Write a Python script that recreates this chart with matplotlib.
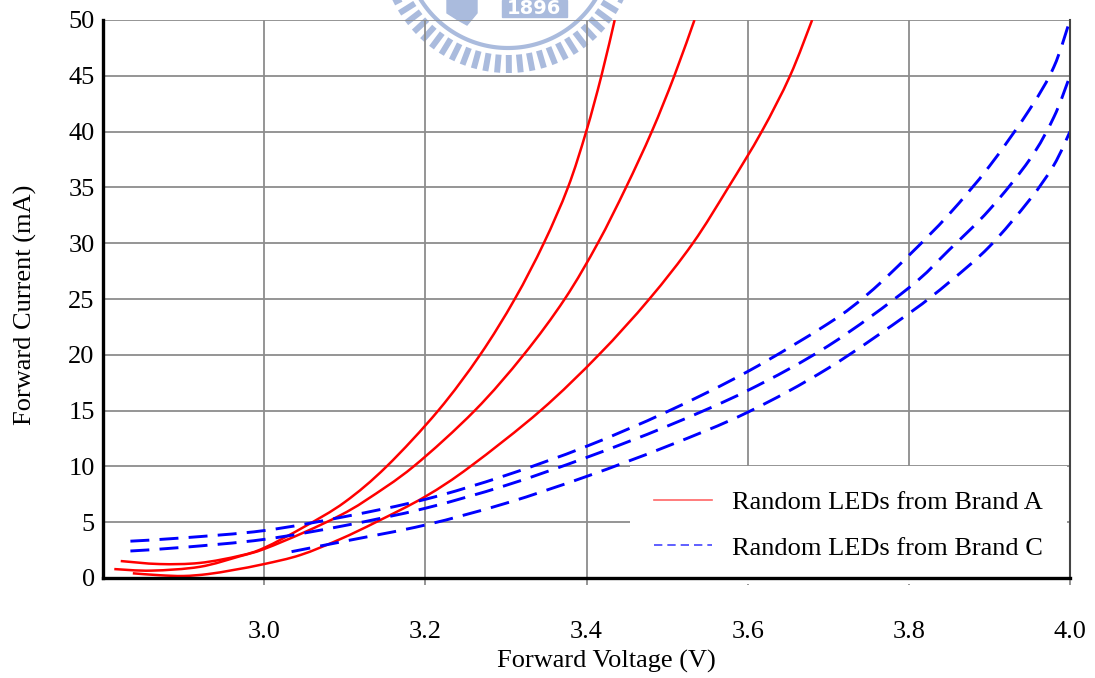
import matplotlib
matplotlib.use('Agg')
import matplotlib.pyplot as plt
from matplotlib.lines import Line2D
from matplotlib.patches import Rectangle, Polygon, PathPatch
from matplotlib.path import Path
import numpy as np

plt.rcParams['font.family'] = ['Liberation Serif', 'DejaVu Serif']

# den LED hang A (duong do, net lien)
a1_v = [2.822, 2.87, 2.92, 2.97, 3.0, 3.05, 3.1, 3.152, 3.216, 3.268, 3.311, 3.347, 3.377, 3.3996, 3.4185, 3.435]
a1_i = [1.52, 1.25, 1.35, 2.0, 2.7, 4.6, 6.8, 10.0, 15.0, 20.0, 25.0, 30.0, 35.0, 40.0, 45.0, 50.0]
a2_v = [2.814, 2.86, 2.92, 2.97, 3.0, 3.05, 3.094, 3.1267, 3.1855, 3.2613, 3.322, 3.373, 3.414, 3.449, 3.481, 3.509, 3.534]
a2_i = [0.8, 0.66, 1.0, 1.95, 2.6, 4.1, 5.6, 6.99, 10.0, 15.0, 20.0, 25.0, 30.0, 35.0, 40.0, 45.0, 50.0]
a3_v = [2.837, 2.87, 2.9, 2.93, 2.962, 3.0, 3.045, 3.094, 3.14, 3.2, 3.256, 3.343, 3.4153, 3.478, 3.532, 3.576, 3.6174, 3.6526, 3.68]
a3_i = [0.42, 0.25, 0.18, 0.35, 0.72, 1.25, 2.06, 3.47, 5.05, 7.3, 10.0, 15.0, 20.0, 25.0, 30.0, 35.0, 40.0, 45.0, 50.0]

# den LED hang C (duong xanh, net dut)
c1_v = [2.834, 2.9, 3.0, 3.1, 3.2, 3.3, 3.4, 3.5, 3.6, 3.7, 3.75, 3.8, 3.85, 3.9, 3.95, 3.98, 4.0]
c1_i = [3.3, 3.6, 4.25, 5.5, 7.05, 9.2, 11.8, 14.9, 18.5, 22.8, 25.5, 28.9, 32.6, 36.9, 42.0, 45.8, 50.0]
c2_v = [2.834, 2.9, 3.0, 3.1, 3.2, 3.3, 3.4, 3.5, 3.6, 3.7, 3.8, 3.85, 3.9, 3.95, 3.98, 4.0]
c2_i = [2.42, 2.75, 3.46, 4.7, 6.25, 8.3, 10.8, 13.6, 16.8, 20.8, 26.0, 29.4, 33.0, 37.5, 41.3, 45.0]
c3_v = [3.034, 3.1, 3.2, 3.3, 3.4, 3.5, 3.6, 3.7, 3.8, 3.85, 3.9, 3.95, 3.98, 4.0]
c3_i = [2.36, 3.3, 4.75, 6.7, 9.1, 11.8, 14.85, 18.8, 23.7, 26.5, 29.7, 33.9, 37.0, 40.0]

x_ticks = [3.0, 3.2, 3.4, 3.6, 3.8, 4.0]
y_ticks = [0, 5, 10, 15, 20, 25, 30, 35, 40, 45, 50]
labels = ['Random LEDs from Brand A', 'Random LEDs from Brand C']


def smooth_path(v, i):
    # duong cong tron qua cac diem (giong "smoothed line" cua Excel)
    p = np.column_stack([v, i])
    pts = np.vstack([p[0], p, p[-1]])
    verts = [p[0]]
    codes = [Path.MOVETO]
    for k in range(1, len(pts) - 2):
        c1 = pts[k] + (pts[k + 1] - pts[k - 1]) / 6
        c2 = pts[k + 1] - (pts[k + 2] - pts[k]) / 6
        verts += [c1, c2, pts[k + 1]]
        codes += [Path.CURVE4] * 3
    return Path(verts, codes)


fig = plt.figure(figsize=(10.95, 6.78), dpi=100)
ax = fig.add_axes([103/1095, 1 - 578/678, 967/1095, 558/678])
ax.patch.set_alpha(0)

# logo mo phia tren (watermark)
wm = fig.add_axes([0, 0, 1, 1], zorder=-1)
wm.set_xlim(0, 1095)
wm.set_ylim(678, 0)
wm.axis('off')
logo = '#aabbdd'
cx, cy = 508, -55
for a in np.arange(26, 156, 5.3):
    t = np.radians(a)
    wm.plot([cx + 110*np.cos(t), cx + 128*np.cos(t)], [cy + 110*np.sin(t), cy + 128*np.sin(t)],
            color=logo, lw=4.3, solid_capstyle='butt')
th = np.radians(np.linspace(20, 160, 100))
wm.plot(cx + 103*np.cos(th), cy + 103*np.sin(th), color=logo, lw=3)
wm.add_patch(Rectangle((502, 0), 65, 17, color=logo))
wm.text(534, 8, '1896', color='white', fontsize=14, fontweight='bold', family='DejaVu Sans',
        ha='center', va='center')
wm.add_patch(Polygon([(447, 0), (477, 0), (477, 13), (467, 25), (458, 20), (447, 13)], color=logo))

for v, i in [(a1_v, a1_i), (a2_v, a2_i), (a3_v, a3_i)]:
    ax.add_patch(PathPatch(smooth_path(v, i), fill=False, edgecolor='#ff0000', lw=1.8, zorder=3))
for v, i in [(c1_v, c1_i), (c2_v, c2_i), (c3_v, c3_i)]:
    ax.add_patch(PathPatch(smooth_path(v, i), fill=False, edgecolor='#0000ff', lw=2.1,
                           linestyle=(0, (6.5, 3.5)), zorder=3))

ax.set_xlim(2.8, 4.0)
ax.set_ylim(0, 50)
ax.set_xticks(x_ticks)
ax.set_xticklabels(['%.1f' % t for t in x_ticks])
ax.set_yticks(y_ticks)
ax.grid(True, color='#8c8c8c', lw=1.3)
ax.tick_params(axis='x', length=5, width=1.3, color='#8c8c8c', pad=26, labelsize=19)
ax.tick_params(axis='y', length=0, pad=6, labelsize=19)

for s in ['left', 'bottom']:
    ax.spines[s].set_linewidth(2.4)
    ax.spines[s].set_color('black')
    ax.spines[s].set_zorder(4)
ax.spines['top'].set_visible(False)
ax.spines['right'].set_color('#444444')
ax.spines['right'].set_linewidth(1.5)
ax.spines['right'].set_zorder(4)

ax.set_xlabel('Forward Voltage (V)', fontsize=19)
ax.set_ylabel('Forward Current (mA)', fontsize=19)
ax.xaxis.set_label_coords(0.521, -0.128)
ax.yaxis.set_label_coords(-0.068, 0.489)

handles = [Line2D([], [], color='#ff6666', lw=1.2),
           Line2D([], [], color='#4444ff', lw=1.2, linestyle=(0, (5, 3)))]
leg = ax.legend(handles, labels, loc='upper left', mode='expand',
                bbox_to_anchor=(527/967, 112/558, 437/967, 0.0),
                fontsize=19, frameon=True, fancybox=False, framealpha=1,
                handlelength=2.2, handletextpad=0.75, labelspacing=0.85,
                borderpad=0.92, borderaxespad=0)
leg.get_frame().set_edgecolor('none')
leg.get_frame().set_facecolor('white')
leg.set_zorder(2.2)

fig.savefig('out.png', dpi=100)
